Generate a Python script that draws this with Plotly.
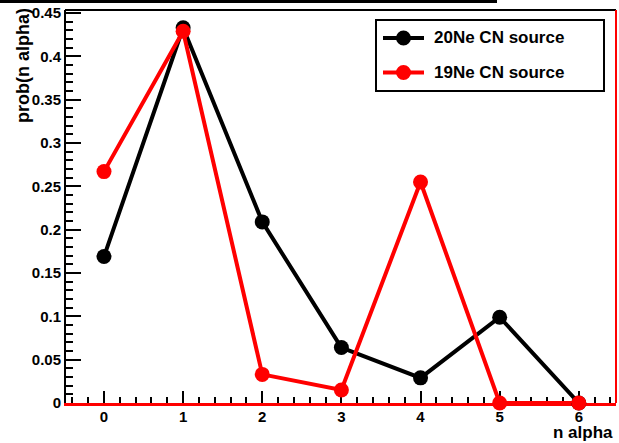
import plotly.graph_objects as go

# Alpha multiplicity distributions for the two compound-nucleus sources
n_alpha = [0, 1, 2, 3, 4, 5, 6]
prob_20ne = [0.169, 0.433, 0.209, 0.064, 0.029, 0.099, 0.0]
prob_19ne = [0.267, 0.429, 0.033, 0.015, 0.255, 0.0, 0.0]
series_names = ["20Ne CN source", "19Ne CN source"]
series_colors = ["black", "#ff0000"]

W, H = 619, 443
ML, MR, MT, MB = 66, 3, 10, 40
PW, PH = W - ML - MR, H - MT - MB


def px(x):
    return (x - ML) / PW


def py(y):
    return (H - MB - y) / PH


FONT = "Liberation Sans, Arial, Helvetica, sans-serif"

fig = go.Figure()
for vals, name, col in zip([prob_20ne, prob_19ne], series_names, series_colors):
    fig.add_trace(go.Scatter(
        x=n_alpha, y=vals, name=name, mode="lines+markers",
        line=dict(color=col, width=4),
        marker=dict(color=col, size=15, symbol="circle"),
        cliponaxis=False, showlegend=False,
    ))

shapes = []
annotations = []

# frame: black top edge, red right edge, plus the line above the frame
shapes.append(dict(type="line", xref="paper", yref="paper",
                   x0=px(ML - 1), x1=px(W - MR), y0=py(MT), y1=py(MT),
                   line=dict(color="black", width=2)))
shapes.append(dict(type="line", xref="paper", yref="paper",
                   x0=px(616), x1=px(616), y0=py(MT), y1=py(H - MB),
                   line=dict(color="#ff0000", width=2)))
shapes.append(dict(type="line", xref="paper", yref="paper",
                   x0=px(0), x1=px(497), y0=py(1.5), y1=py(1.5),
                   line=dict(color="black", width=3)))

# legend box
shapes.append(dict(type="rect", xref="paper", yref="paper",
                   x0=px(376), x1=px(604), y0=py(20), y1=py(91),
                   line=dict(color="black", width=2), fillcolor="white"))
for row_y, name, col in zip([38, 72.5], series_names, series_colors):
    shapes.append(dict(type="line", xref="paper", yref="paper",
                       x0=px(383), x1=px(424), y0=py(row_y), y1=py(row_y),
                       line=dict(color=col, width=4)))
    shapes.append(dict(type="circle", xref="paper", yref="paper",
                       xsizemode="pixel", ysizemode="pixel",
                       xanchor=px(403.5), yanchor=py(row_y),
                       x0=-7.5, x1=7.5, y0=-7.5, y1=7.5,
                       line=dict(color=col, width=0), fillcolor=col))
    annotations.append(dict(xref="paper", yref="paper", x=px(432), y=py(row_y),
                            xanchor="left", yanchor="middle", showarrow=False,
                            text=name,
                            font=dict(family=FONT, size=17, color="black", weight="bold")))

# axis titles
annotations.append(dict(xref="paper", yref="paper", x=px(23.5), y=py(6),
                        xanchor="center", yanchor="top", showarrow=False,
                        textangle=-90, text="prob(n alpha)",
                        font=dict(family=FONT, size=18, color="black", weight="bold")))
annotations.append(dict(xref="paper", yref="paper", x=px(614), y=py(443),
                        xanchor="right", yanchor="bottom", showarrow=False,
                        borderpad=0, text="n alpha",
                        font=dict(family=FONT, size=17, color="black", weight="bold")))

fig.update_layout(
    width=W, height=H,
    margin=dict(l=ML, r=MR, t=MT, b=MB, pad=0),
    paper_bgcolor="white", plot_bgcolor="white",
    shapes=shapes, annotations=annotations,
    showlegend=False,
    xaxis=dict(range=[-0.48, 6.47], dtick=1, tick0=0,
               showgrid=False, zeroline=False,
               showline=True, linecolor="#ff0000", linewidth=3,
               ticks="inside", ticklen=12, tickwidth=2, tickcolor="black",
               minor=dict(dtick=0.2, tick0=0, ticks="inside", ticklen=6,
                          tickwidth=2, tickcolor="black", showgrid=False),
               tickfont=dict(family=FONT, size=15, color="black", weight="bold"),
               ticklabelstandoff=-2,
               layer="below traces"),
    yaxis=dict(range=[0, 0.4535], dtick=0.05, tick0=0,
               showgrid=False, zeroline=False,
               showline=True, linecolor="black", linewidth=2,
               ticks="inside", ticklen=15, tickwidth=2, tickcolor="black",
               minor=dict(dtick=0.01, tick0=0, ticks="inside", ticklen=7,
                          tickwidth=2, tickcolor="black", showgrid=False),
               tickfont=dict(family=FONT, size=15, color="black", weight="bold"),
               layer="below traces"),
)

fig.write_html("out.html")
